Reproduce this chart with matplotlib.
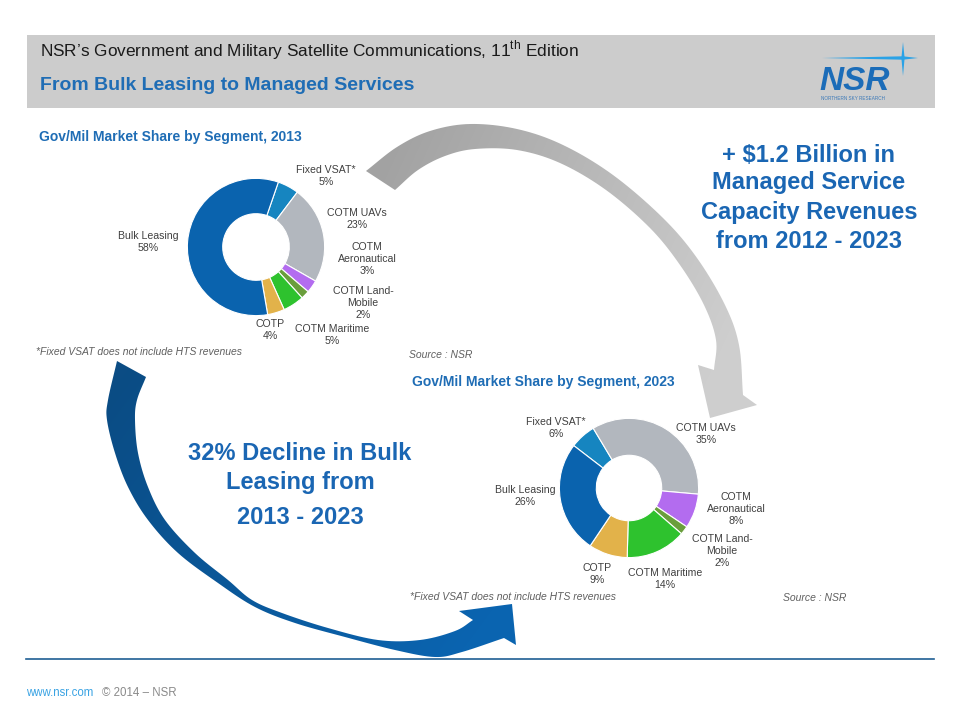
import numpy as np
import matplotlib
matplotlib.use('Agg')
import matplotlib.pyplot as plt
from matplotlib.patches import Polygon, Rectangle
from matplotlib.colors import to_rgb

plt.rcParams['font.family'] = ['Liberation Sans', 'DejaVu Sans']
plt.rcParams['mathtext.fontset'] = 'custom'
plt.rcParams['mathtext.rm'] = 'Liberation Sans'

# data, clockwise order of the rings
segments = ['Fixed VSAT*', 'COTM UAVs', 'COTM\nAeronautical', 'COTM Land-\nMobile',
            'COTM Maritime', 'COTP', 'Bulk Leasing']
share_2013 = [5, 23, 3, 2, 5, 4, 58]
share_2023 = [6, 35, 8, 2, 14, 9, 26]
seg_colors = ['#1685c0', '#b2b7be', '#b36cef', '#6a9e3c', '#2ec22e', '#e2b24a', '#0a63ae']

# label centres (pixels) for each segment
lab_pos_2013 = [(326, 176), (357, 219), (367, 259), (363, 303), (332, 335), (270, 330), (148, 242)]
lab_pos_2023 = [(556, 428), (706, 434), (736, 509), (722, 551), (665, 579), (597, 574), (525, 496)]

BLUE = '#1a66b3'
W, H = 960, 720


def smooth(pts, n=10):
    p = np.asarray(pts, float)
    p = np.vstack([2 * p[0] - p[1], p, 2 * p[-1] - p[-2]])
    out = []
    for i in range(1, len(p) - 2):
        p0, p1, p2, p3 = p[i - 1], p[i], p[i + 1], p[i + 2]
        for t in np.linspace(0, 1, n, endpoint=False):
            out.append(0.5 * (2 * p1 + (-p0 + p2) * t + (2 * p0 - 5 * p1 + 4 * p2 - p3) * t ** 2
                              + (-p0 + 3 * p1 - 3 * p2 + p3) * t ** 3))
    out.append(p[-2])
    return np.array(out)


def draw_arrow(ax, outer, inner, head, c0, c1, g0, g1):
    pts = np.vstack([smooth(outer), np.array(head, float), smooth(inner)[::-1]])
    poly = Polygon(pts, closed=True, facecolor='none', edgecolor='none')
    ax.add_patch(poly)
    X, Y = np.meshgrid(np.arange(W) + 0.5, np.arange(H) + 0.5)
    d = np.array(g1, float) - np.array(g0, float)
    t = np.clip(((X - g0[0]) * d[0] + (Y - g0[1]) * d[1]) / d.dot(d), 0, 1)[..., None]
    img = (1 - t) * np.array(to_rgb(c0)) + t * np.array(to_rgb(c1))
    im = ax.imshow(img, extent=(0, W, H, 0), origin='upper', interpolation='bilinear', zorder=1)
    im.set_clip_path(poly)


def donut(fig, cx, cy, r, values, start, hole):
    axp = fig.add_axes([(cx - r) / W, 1 - (cy + r) / H, 2 * r / W, 2 * r / H])
    axp.pie(values, colors=seg_colors, startangle=start, counterclock=False,
            wedgeprops=dict(width=1 - hole, edgecolor='white', linewidth=0.8))
    axp.set_xlim(-1.02, 1.02)
    axp.set_ylim(-1.02, 1.02)
    axp.axis('off')


fig = plt.figure(figsize=(9.6, 7.2), dpi=100)
ax = fig.add_axes([0, 0, 1, 1])
ax.axis('off')

# header band
ax.add_patch(Rectangle((27, 35), 908, 73, facecolor='#cccccc', edgecolor='none'))
ax.text(40, 50, 'NSR\u2019s Government and Military Satellite Communications, 11$^{\\mathrm{th}}$ Edition',
        fontsize=12.4, color='#1a1a1a', va='center', ha='left')
ax.text(40, 86, 'From Bulk Leasing to Managed Services', fontsize=14, fontweight='bold',
        color='#1f6db5', va='center', ha='left')

# logo
ax.add_patch(Polygon([(822, 58), (903, 56.3), (918, 58), (903, 59.7)], facecolor='#2aa2e6', edgecolor='none'))
ax.add_patch(Polygon([(903, 42), (904.6, 58), (903, 76), (901.4, 58)], facecolor='#2aa2e6', edgecolor='none'))
ax.text(855, 81, 'NSR', fontsize=24, fontweight='bold', style='italic', color='#1b6cb8',
        ha='center', va='center')
ax.text(853, 98, 'NORTHERN SKY RESEARCH', fontsize=3.3, color='#3a78b8', ha='center', va='center')

# curved arrows
gray_outer = [(366, 171), (397, 147), (430, 131), (470, 124), (517, 129), (563, 145),
              (613, 175), (663, 218), (697, 258), (725, 305), (739, 345), (743, 395)]
gray_inner = [(395, 190), (418, 170), (445, 156), (475, 149), (517, 150), (560, 163),
              (606, 190), (650, 228), (680, 265), (704, 305), (716, 340), (714, 370)]
draw_arrow(ax, gray_outer, gray_inner, [(757, 405), (710, 418), (698, 365)],
           '#a2a2a2', '#cecece', (380, 170), (730, 330))

blue_outer = [(117, 361), (108, 400), (107, 420), (115, 453), (128, 487), (148, 520), (178, 553),
              (218, 583), (255, 607), (295, 623), (345, 637), (395, 650), (435, 657), (462, 652), (504, 638)]
blue_inner = [(146, 377), (137, 400), (135, 420), (138, 453), (148, 487), (165, 520), (195, 553),
              (228, 580), (252, 600), (282, 613), (328, 628), (378, 640), (420, 640), (455, 631), (473, 620)]
draw_arrow(ax, blue_outer, blue_inner, [(516, 645), (512, 604), (459, 611)],
           '#0b4c84', '#0a64b0', (120, 380), (470, 640))

ax.set_xlim(0, W)
ax.set_ylim(H, 0)
ax.set_aspect('auto')

# donuts
donut(fig, 256, 247, 70, share_2013, 71, 0.485)
donut(fig, 629, 488, 71, share_2023, 142.5, 0.47)

for vals, pos in [(share_2013, lab_pos_2013), (share_2023, lab_pos_2023)]:
    for name, v, (x, y) in zip(segments, vals, pos):
        ax.text(x, y, f'{name}\n{v}%', fontsize=7.6, color='#404040', ha='center', va='center',
                linespacing=1.2)

ax.text(39, 137, 'Gov/Mil Market Share by Segment, 2013', fontsize=10, fontweight='bold',
        color='#1f6db5', va='center', ha='left')
ax.text(412, 382, 'Gov/Mil Market Share by Segment, 2023', fontsize=10, fontweight='bold',
        color='#1f6db5', va='center', ha='left')

note = '*Fixed VSAT does not include HTS revenues'
ax.text(36, 352, note, fontsize=7.5, style='italic', color='#606060', va='center', ha='left')
ax.text(410, 597, note, fontsize=7.5, style='italic', color='#606060', va='center', ha='left')
ax.text(409, 355, 'Source : NSR', fontsize=7.5, style='italic', color='#606060', va='center', ha='left')
ax.text(783, 598, 'Source : NSR', fontsize=7.5, style='italic', color='#606060', va='center', ha='left')

# call-out texts
right_lines = ['+ \\$1.2 Billion in', 'Managed Service', 'Capacity Revenues', 'from 2012 - 2023']
for s, y in zip(right_lines, [155, 183, 212, 241]):
    ax.text(809, y, s, fontsize=17, fontweight='bold', color=BLUE, ha='center', va='center')
left_lines = ['32% Decline in Bulk', 'Leasing from', '2013 - 2023']
for s, y in zip(left_lines, [454, 483, 518]):
    ax.text(300, y, s, fontsize=17, fontweight='bold', color=BLUE, ha='center', va='center')

# footer
ax.plot([26, 934], [659, 659], color='#1f5f94', lw=1.2)
ax.text(26, 693, 'www.nsr.com', fontsize=8.3, color='#3aa3e3', va='center', ha='left')
ax.text(102, 693, '\u00a9 2014 \u2013 NSR', fontsize=8.3, color='#8a8a8a', va='center', ha='left')

fig.savefig('out.png', dpi=100, facecolor='white')
